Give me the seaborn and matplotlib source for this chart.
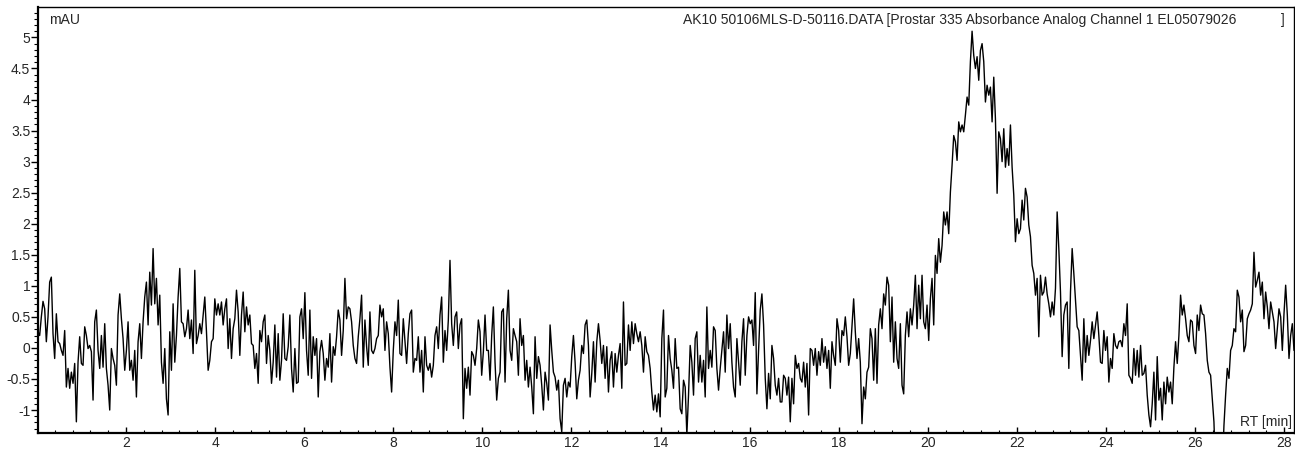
import numpy as np
import pandas as pd
import matplotlib
matplotlib.use("Agg")
import matplotlib.pyplot as plt
from matplotlib.ticker import MultipleLocator, FuncFormatter
import seaborn as sns

# ---------------- data (absorbance in mAU) ----------------
RT_START = 0.024
RT_END = 28.22

trace_0_5 = [
    0.26, 0.20, 0.50, 0.75, 0.63, 0.10, 0.50, 1.06, 1.14, 0.23,
    -0.17, 0.55, 0.10, 0.07, -0.04, -0.12, 0.28, -0.63, -0.33, -0.65,
    -0.39, -0.57, -0.25, -1.19, -0.23, 0.18, -0.25, -0.28, 0.34, 0.20,
    -0.01, 0.04, -0.06, -0.84, 0.42, 0.61, -0.04, -0.33, 0.20, -0.31,
    0.39, -0.33, -0.60, -1.00, -0.01, -0.17, -0.28, -0.60, 0.53, 0.87,
    0.47, 0.15, -0.36, -0.04, 0.42, -0.36, -0.20, -0.52, -0.04, -0.79,
    0.10, 0.39, -0.17, 0.42, 0.82, 1.06, 0.37, 1.22, 0.69, 1.60,
    0.71, 1.12, 0.37, 0.85, -0.23, -0.57, -0.01, -0.82, -1.08, 0.26,
    -0.36, 0.71, -0.23, 0.20, 0.82, 1.28, 0.42, 0.39, 0.18, 0.31,
    0.61, 0.15, 0.45, -0.09, 1.25, 0.07, 0.20, 0.39, 0.23, 0.53,
    0.82, 0.26, -0.36, -0.20, 0.10, 0.15, 0.79, 0.53, 0.71, 0.53,
    0.74, 0.37, 0.63, 0.79, -0.01, 0.47, -0.17, 0.31, 0.47, 0.93,
    0.58, -0.12, 0.53, 0.90, 0.26, 0.66, 0.37, 0.53, 0.07,
]

trace_5_10 = [
    0.04, -0.33, -0.09, -0.57, 0.28, 0.10, 0.42, 0.53, -0.25, 0.20,
    -0.04, -0.57, -0.23, 0.37, -0.47, 0.23, -0.52, -0.20, 0.55, -0.17,
    -0.20, 0.02, 0.53, -0.33, -0.71, -0.01, -0.57, -0.55, 0.50, 0.63,
    0.15, 0.89, -0.04, -0.44, 0.61, -0.49, 0.18, -0.12, 0.15, -0.79,
    -0.06, 0.12, -0.09, -0.52, -0.17, -0.31, 0.23, -0.55, 0.02, -0.12,
    0.18, 0.61, 0.45, -0.12, 0.28, 1.12, 0.47, 0.66, 0.63, 0.42,
    0.04, -0.17, -0.25, 0.18, 0.47, 0.85, -0.31, 0.45, 0.02, -0.28,
    0.58, -0.04, -0.09, -0.01, 0.15, 0.20, 0.69, 0.50, 0.63, -0.04,
    0.42, 0.23, -0.31, -0.71, -0.04, 0.42, 0.20, 0.77, -0.09, -0.12,
    0.47, 0.12, -0.25, 0.23, 0.55, 0.61, -0.39, -0.17, -0.20, 0.18,
    -0.39, -0.04, -0.71, 0.18, -0.28, -0.36, -0.25, -0.47, -0.28, 0.20,
    0.34, -0.01, 0.53, 0.82, -0.23, 0.28, -0.04, 0.45, 1.41, 0.39,
    0.04, 0.50, 0.58, -0.01, 0.37, 0.47, -1.14,
]

trace_10_14 = [
    -0.33, -0.65, -0.31, -0.76, -0.06, -0.12, -0.28, -0.01, 0.45, 0.26,
    -0.44, -0.06, 0.53, -0.04, -0.04, -0.52, 0.20, 0.66, -0.23, -0.84,
    -0.49, -0.39, 0.58, 0.63, -0.55, 0.47, 0.93, -0.04, -0.20, 0.31,
    0.20, 0.10, -0.44, 0.47, 0.04, 0.20, -0.52, -0.20, -0.63, -0.31,
    -0.63, -1.06, 0.18, -0.49, -0.14, -0.28, -0.60, -1.00, -0.39, -0.57,
    -0.84, 0.37, -0.04, -0.39, -0.47, -0.68, -0.52, -1.14, -1.35, -0.60,
    -0.49, -0.79, -0.55, -0.63, -0.14, 0.20, -0.23, -0.82, -0.52, -0.36,
    0.04, -0.09, 0.37, 0.45, 0.04, -0.79, -0.41, 0.10, -0.55, 0.10,
    0.39, 0.12, -0.25, 0.04, -0.49, 0.02, -0.71, -0.20, -0.06, -0.63,
    -0.09, -0.39, -0.12, 0.07, -0.65, 0.74, -0.28, -0.25, 0.37, -0.04,
    0.42, 0.07, 0.39, 0.23, 0.10, 0.26, 0.04, -0.39, 0.18, -0.06,
    -0.12, -0.33, -0.71, -1.00, -0.76, -1.03, -0.74, -1.11, 0.15, 0.61,
    -0.79, -0.65, 0.20, -0.17, -0.36, -0.65, 0.15,
]

trace_14_19 = [
    -0.33, -0.31, -0.98, -1.06, -0.52, -0.63, -1.40, -0.76, 0.04, -0.23,
    -0.76, 0.15, 0.26, -0.55, -0.12, -0.55, -0.20, -0.79, 0.66, -0.33,
    -0.04, -0.31, 0.34, 0.28, -0.33, -0.68, -0.33, -0.04, 0.26, -0.39,
    0.53, -0.01, 0.39, -0.23, -0.63, -0.79, 0.15, -0.23, -0.60, 0.10,
    0.47, -0.44, 0.20, 0.50, 0.39, 0.45, 0.04, 0.89, -0.74, -0.04,
    0.61, 0.87, 0.37, -0.49, -0.98, -0.41, -0.82, 0.04, -0.17, -0.60,
    -0.76, -0.49, -0.87, -0.87, -0.44, -0.49, -0.76, -0.47, -1.19, -0.49,
    -0.90, -0.12, -0.33, -0.25, -0.49, -0.55, -0.23, -0.63, -0.25, -1.08,
    -0.01, -0.04, -0.28, -0.01, -0.44, -0.06, -0.28, 0.15, -0.23, 0.02,
    -0.33, -0.04, -0.65, 0.10, -0.12, -0.28, 0.47, 0.28, -0.23, 0.28,
    0.20, 0.50, 0.18, -0.28, -0.09, 0.34, 0.79, 0.26, -0.17, 0.15,
    -0.23, -1.22, -0.63, -0.82, -0.39, -0.31, 0.31, 0.15, -0.52, 0.31,
    -0.57, 0.37, 0.63, 0.31, 0.87, 0.69, 1.14,
]

trace_19_24 = [
    1.01, 0.10, 0.82, -0.23, 0.42, -0.17, -0.33, 0.39, -0.60, -0.74,
    0.20, 0.58, 0.18, 0.63, 0.37, 0.69, 1.17, 0.31, 1.01, 0.47,
    1.17, 0.42, 0.31, 0.69, 0.12, 0.79, 1.12, 0.37, 1.49, 1.20,
    1.76, 1.38, 1.65, 2.19, 1.98, 2.19, 1.84, 2.51, 2.94, 3.42,
    3.32, 3.02, 3.64, 3.48, 3.59, 3.48, 3.75, 4.04, 3.91, 4.61,
    5.10, 4.71, 4.50, 4.69, 4.31, 4.79, 4.90, 4.61, 3.96, 4.23,
    4.07, 4.20, 3.64, 4.36, 3.69, 2.49, 3.48, 3.37, 3.00, 3.53,
    2.91, 3.21, 2.94, 3.59, 2.91, 2.46, 1.71, 2.08, 1.84, 1.92,
    2.38, 2.06, 2.57, 2.43, 1.98, 1.79, 1.33, 1.20, 0.85, 1.12,
    0.18, 1.17, 0.85, 0.90, 1.14, 0.87, 0.71, 0.50, 0.74, 0.53,
    0.96, 2.19, 1.60, 0.90, -0.14, 0.53, 0.69, 0.74, -0.33, 0.90,
    1.60, 1.20, 0.77, 0.34, 0.28, -0.12, -0.52, 0.47, -0.23, 0.20,
    -0.12, 0.12, 0.42, 0.15,
]

trace_24_28 = [
    0.37, 0.58, 0.20, -0.23, -0.25, 0.28, -0.04, 0.18, -0.55, -0.17,
    -0.33, 0.23, 0.04, -0.01, 0.10, 0.12, 0.02, 0.39, 0.20, 0.71,
    -0.44, -0.49, -0.57, -0.01, -0.44, -0.04, -0.47, 0.04, -0.44, -0.41,
    -0.28, -0.76, -1.08, -1.27, -0.90, -0.39, -1.16, -0.14, -0.84, -0.65,
    -1.16, -0.55, -0.90, -0.47, -0.71, -0.55, -0.90, -0.31, 0.10, -0.25,
    0.20, 0.85, 0.53, 0.69, 0.47, 0.20, 0.10, 0.45, 0.42, 0.04,
    -0.09, 0.53, 0.28, 0.69, 0.55, 0.53, 0.23, -0.20, -0.39, -0.44,
    -0.82, -1.19, -2.00, -2.00, -2.00, -2.00, -2.00, -1.25, -0.76, -0.33,
    -0.49, -0.04, 0.04, 0.31, 0.26, 0.93, 0.82, 0.42, 0.61, -0.06,
    0.04, 0.47, 0.55, 0.61, 0.71, 1.54, 0.98, 1.09, 1.22, 0.85,
    1.06, 0.47, 0.90, 0.66, 0.31, 0.74, 0.58, 0.42, -0.01, 0.31,
    0.63, 0.50, -0.04, 0.55, 1.01, 0.53, -0.17, 0.20, 0.39, -0.04,
]

header_text = "AK10 50106MLS-D-50116.DATA [Prostar 335 Absorbance Analog Channel 1 EL05079026"
y_label_text = "mAU"
x_label_text = "RT [min]"

signal = np.concatenate([trace_0_5, trace_5_10, trace_10_14,
                         trace_14_19, trace_19_24, trace_24_28])
rt = np.linspace(RT_START, RT_END, len(signal))
df = pd.DataFrame({"RT": rt, "mAU": signal})

# ---------------- styling ----------------
sns.set_style("white")
plt.rcParams["font.family"] = ["Liberation Sans", "DejaVu Sans"]
plt.rcParams["axes.unicode_minus"] = False

FS = 10
W, H = 1295, 453
fig = plt.figure(figsize=(W / 100, H / 100), dpi=100)
ax = fig.add_axes([38 / W, 20 / H, 1256 / W, 426 / H])

sns.lineplot(data=df, x="RT", y="mAU", color="black", linewidth=1.0,
             estimator=None, sort=False, ax=ax)

ax.set_xlim(RT_START, RT_END)
ax.set_ylim(-1.37, 5.49)
ax.set_xlabel("")
ax.set_ylabel("")

ax.xaxis.set_major_locator(MultipleLocator(2))
ax.xaxis.set_minor_locator(MultipleLocator(0.4))
ax.yaxis.set_major_locator(MultipleLocator(0.5))
ax.yaxis.set_minor_locator(MultipleLocator(0.1))


def fmt(v, pos):
    v = round(v, 2)
    if v == 0:
        return "0"
    return f"{v:g}"


ax.xaxis.set_major_formatter(FuncFormatter(fmt))
ax.yaxis.set_major_formatter(FuncFormatter(fmt))

ax.tick_params(axis="y", which="major", direction="out", length=5, width=1,
               labelsize=FS, pad=0.5, color="black", left=True)
ax.tick_params(axis="y", which="minor", direction="out", length=3, width=0.8,
               color="black", left=True)
ax.tick_params(axis="x", which="major", direction="in", length=4, width=1,
               labelsize=FS, pad=2.0, color="black", bottom=True)
ax.tick_params(axis="x", which="minor", direction="in", length=2.5, width=0.8,
               color="black", bottom=True)

for side, lw in (("left", 1.6), ("bottom", 1.6), ("top", 1.0), ("right", 1.0)):
    ax.spines[side].set_color("black")
    ax.spines[side].set_linewidth(lw)

ax.text(11 / 1256, 0.985, y_label_text, transform=ax.transAxes,
        ha="left", va="top", fontsize=FS)
ax.text((683 - 38) / 1256, 0.985, header_text, transform=ax.transAxes,
        ha="left", va="top", fontsize=FS)
ax.text((1281 - 38) / 1256, 0.985, "]", transform=ax.transAxes,
        ha="left", va="top", fontsize=FS)
ax.text(0.9985, 0.010, x_label_text, transform=ax.transAxes,
        ha="right", va="bottom", fontsize=FS)

fig.savefig("out.png", dpi=100)
